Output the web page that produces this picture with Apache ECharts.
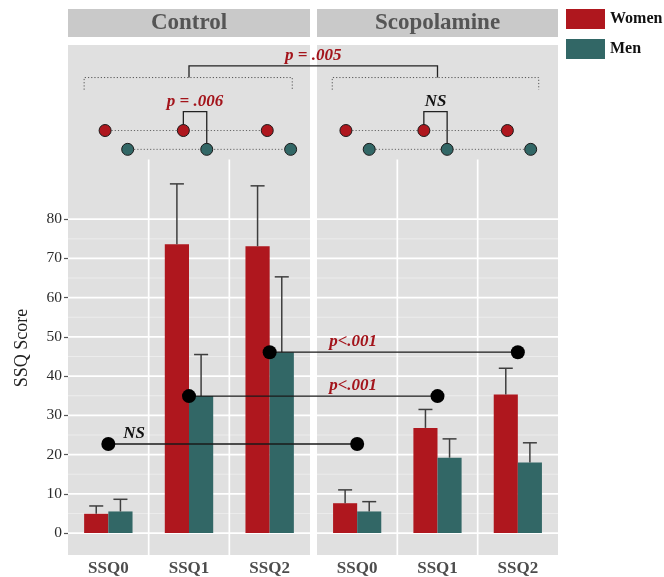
<!DOCTYPE html>
<html>
<head>
<meta charset="utf-8">
<script src="https://cdn.jsdelivr.net/npm/echarts@6/dist/echarts.min.js"></script>
<style>
  html, body { margin: 0; padding: 0; background: #ffffff; }
  #chart { width: 664px; height: 577px; }
</style>
</head>
<body>
<div id="chart"></div>
<script>
// ---- data ----
const categories = ['SSQ0', 'SSQ1', 'SSQ2'];
const panelNames = ['Control', 'Scopolamine'];
const groupNames = ['Women', 'Men'];

// mean SSQ scores
const controlWomen = [4.9, 73.6, 73.1];
const controlMen = [5.5, 34.9, 46.1];
const scopWomen = [7.6, 26.8, 35.3];
const scopMen = [5.5, 19.2, 18.0];

// upper end of each error bar (mean + error)
const controlWomenUpper = [6.9, 89.0, 88.5];
const controlMenUpper = [8.6, 45.5, 65.3];
const scopWomenUpper = [11.0, 31.5, 42.0];
const scopMenUpper = [8.0, 24.0, 23.0];

const yTicks = [0, 10, 20, 30, 40, 50, 60, 70, 80];
const yMinorTicks = [5, 15, 25, 35, 45, 55, 65, 75];

// Control vs Scopolamine at each session
const sessionLevels = [22.7, 34.9, 46.1];
const sessionLabels = ['NS', 'p<.001', 'p<.001'];

// women vs men within each condition, and condition effect
const sexTestLabels = ['p = .006', 'NS'];
const conditionTestLabel = 'p = .005';

// ---- styling / layout ----
const FONT = '"Liberation Serif", "Times New Roman", serif';
const WOMEN_COLOR = '#AF171E';
const MEN_COLOR = '#326766';
const PANEL_BG = '#E0E0E0';
const STRIP_BG = '#C9C9C9';
const P_RED = '#A3141B';

const grids = [
  { left: 68, top: 45, width: 242, height: 512 },
  { left: 317, top: 45, width: 241, height: 512 }
];
const Y_MIN = -5.6, Y_MAX = 124.4;
const VGRID_TOP = 95.2;

// schematic design diagram above the bars (x in category-band units)
const schemWomenX = [[0.46, 1.43, 2.47], [0.36, 1.33, 2.37]];
const schemMenX = [[0.74, 1.72, 2.76], [0.65, 1.62, 2.66]];
const SCHEM_WOMEN_Y = 102.6, SCHEM_MEN_Y = 97.8;
const SEX_BRACKET_Y = 107.4, SEX_LABEL_Y = 110.0;
const groupBoxX = [[0.20, 2.78], [0.19, 2.76]];
const GROUP_BOX_LOW = 113.0, GROUP_BOX_TOP = 116.1;
const COND_BRACKET_Y = 119.1, COND_LABEL_Y = 121.8;
const sessionLabelPos = [{ panel: 0, x: 0.82 }, { panel: 1, x: 0.45 }, { panel: 1, x: 0.45 }];

const panels = [
  { women: controlWomen, men: controlMen, womenUp: controlWomenUpper, menUp: controlMenUpper },
  { women: scopWomen, men: scopMen, womenUp: scopWomenUpper, menUp: scopMenUpper }
];

const chart = echarts.init(document.getElementById('chart'), null, { renderer: 'canvas' });

function hLine(params, api) {
  const y = api.coord([0, api.value(1)])[1];
  const cs = params.coordSys;
  const major = api.value(2) === 1;
  return {
    type: 'line', silent: true,
    shape: { x1: cs.x, y1: y, x2: cs.x + cs.width, y2: y },
    style: { stroke: major ? '#FFFFFF' : '#EDEDED', lineWidth: major ? 1.7 : 0.9 }
  };
}

function vLine(params, api) {
  const band = api.size([1, 0])[0];
  const x = api.coord([api.value(0), 0])[0] - band / 2;
  const cs = params.coordSys;
  const yTop = api.coord([0, VGRID_TOP])[1];
  return {
    type: 'line', silent: true,
    shape: { x1: x, y1: yTop, x2: x, y2: cs.y + cs.height },
    style: { stroke: '#FFFFFF', lineWidth: 1.7 }
  };
}

function errBar(side) {
  return function (params, api) {
    const band = api.size([1, 0])[0];
    const cx = api.coord([api.value(0), 0])[0] + side * band * 0.15;
    const y0 = api.coord([0, api.value(1)])[1];
    const y1 = api.coord([0, api.value(2)])[1];
    const cap = band * 0.087;
    const st = { stroke: '#3E3E3E', lineWidth: 1.5 };
    return {
      type: 'group',
      children: [
        { type: 'line', shape: { x1: cx, y1: y0, x2: cx, y2: y1 }, style: st },
        { type: 'line', shape: { x1: cx - cap, y1: y1, x2: cx + cap, y2: y1 }, style: st }
      ]
    };
  };
}

const xAxes = [], yAxes = [], series = [];
grids.forEach((g, p) => {
  xAxes.push({
    type: 'category', gridIndex: p, data: categories, boundaryGap: true,
    axisLine: { show: false }, axisTick: { show: false }, splitLine: { show: false },
    axisLabel: { margin: 5, fontFamily: FONT, fontWeight: 'bold', fontSize: 17, color: '#4D4D4D' }
  });
  yAxes.push({
    type: 'value', gridIndex: p, min: Y_MIN, max: Y_MAX,
    axisLine: { show: false }, splitLine: { show: false },
    axisTick: { show: p === 0, length: 4, lineStyle: { color: '#555555', width: 1.2 }, customValues: yTicks },
    axisLabel: { show: p === 0, customValues: yTicks, margin: 6, fontFamily: FONT, fontSize: 15.5, color: '#2B2B2B' }
  });
});
// hidden continuous axes (0..3 band units) for placing annotations
grids.forEach((g, p) => {
  xAxes.push({ type: 'value', gridIndex: p, min: 0, max: 3, show: false });
});

grids.forEach((g, p) => {
  const gridRows = yTicks.map(v => [0, v, 1]).concat(yMinorTicks.map(v => [0, v, 0]));
  series.push({
    type: 'custom', xAxisIndex: p, yAxisIndex: p, z: 1, silent: true,
    encode: { x: 0, y: 1 }, renderItem: hLine, data: gridRows
  });
  series.push({
    type: 'custom', xAxisIndex: p, yAxisIndex: p, z: 1, silent: true,
    encode: { x: 0, y: 1 }, renderItem: vLine, data: [[1, 0], [2, 0]]
  });
  const d = panels[p];
  series.push({
    name: 'Women', type: 'bar', xAxisIndex: p, yAxisIndex: p, z: 2,
    barWidth: '30%', barGap: '0%', data: d.women,
    itemStyle: { color: WOMEN_COLOR }
  });
  series.push({
    name: 'Men', type: 'bar', xAxisIndex: p, yAxisIndex: p, z: 2,
    barWidth: '30%', barGap: '0%', data: d.men,
    itemStyle: { color: MEN_COLOR }
  });
  series.push({
    type: 'custom', xAxisIndex: p, yAxisIndex: p, z: 3, silent: true,
    encode: { x: 0, y: [1, 2] }, renderItem: errBar(-1),
    data: d.women.map((v, i) => [i, v, d.womenUp[i]])
  });
  series.push({
    type: 'custom', xAxisIndex: p, yAxisIndex: p, z: 3, silent: true,
    encode: { x: 0, y: [1, 2] }, renderItem: errBar(1),
    data: d.men.map((v, i) => [i, v, d.menUp[i]])
  });
});

const baseGraphics = [];
grids.forEach((g, p) => {
  baseGraphics.push({
    type: 'rect', shape: { x: g.left, y: 9, width: g.width, height: 28 },
    style: { fill: STRIP_BG }, silent: true
  });
  baseGraphics.push({
    type: 'text', silent: true,
    style: {
      text: panelNames[p], x: g.left + g.width / 2, y: 23.5,
      align: 'center', verticalAlign: 'middle',
      fontFamily: FONT, fontWeight: 'bold', fontSize: 23, fill: '#555555'
    }
  });
});
baseGraphics.push({
  type: 'text', silent: true, rotation: Math.PI / 2, x: 22, y: 348,
  style: {
    text: 'SSQ Score', x: 0, y: 0, align: 'center', verticalAlign: 'middle',
    fontFamily: FONT, fontSize: 18, fill: '#222222'
  }
});

chart.setOption({
  animation: false,
  backgroundColor: '#FFFFFF',
  grid: grids.map(g => Object.assign({ show: true, backgroundColor: PANEL_BG, borderWidth: 0 }, g)),
  legend: {
    data: groupNames, orient: 'vertical', left: 561, top: 4,
    itemWidth: 39, itemHeight: 20, itemGap: 10, icon: 'rect', selectedMode: false,
    textStyle: { fontFamily: FONT, fontWeight: 'bold', fontSize: 16, color: '#111111' }
  },
  xAxis: xAxes,
  yAxis: yAxes,
  series: series,
  graphic: baseGraphics
});

// ---- annotations placed through the axes ----
function px(p, x, y) {
  return chart.convertToPixel({ xAxisIndex: 2 + p, yAxisIndex: p }, [x, y]);
}
const A = [];
function polyline(points, stroke, width, dash) {
  A.push({
    type: 'polyline', z: 100, silent: true, shape: { points: points },
    style: { stroke: stroke, lineWidth: width, fill: null, lineDash: dash || null }
  });
}
function dot(pt, r, fill, stroke) {
  A.push({
    type: 'circle', z: 101, silent: true, shape: { cx: pt[0], cy: pt[1], r: r },
    style: { fill: fill, stroke: stroke || null, lineWidth: stroke ? 1 : 0 }
  });
}
function label(pt, text, color, size) {
  A.push({
    type: 'text', z: 102, silent: true,
    style: {
      text: text, x: pt[0], y: pt[1], align: 'center', verticalAlign: 'middle',
      fontFamily: FONT, fontWeight: 'bold', fontStyle: 'italic', fontSize: size || 17, fill: color
    }
  });
}

const DOTTED = [1.2, 2];
grids.forEach((g, p) => {
  const wx = schemWomenX[p], mx = schemMenX[p];
  // dotted group box
  const bx = groupBoxX[p];
  polyline([px(p, bx[0], GROUP_BOX_LOW), px(p, bx[0], GROUP_BOX_TOP),
            px(p, bx[1], GROUP_BOX_TOP), px(p, bx[1], GROUP_BOX_LOW)], '#555555', 1, DOTTED);
  // dotted rows joining sessions
  polyline([px(p, wx[0], SCHEM_WOMEN_Y), px(p, wx[2], SCHEM_WOMEN_Y)], '#666666', 1, DOTTED);
  polyline([px(p, mx[0], SCHEM_MEN_Y), px(p, mx[2], SCHEM_MEN_Y)], '#666666', 1, DOTTED);
  // women vs men bracket
  polyline([px(p, wx[1], SCHEM_WOMEN_Y), px(p, wx[1], SEX_BRACKET_Y),
            px(p, mx[1], SEX_BRACKET_Y), px(p, mx[1], SCHEM_MEN_Y)], '#222222', 1.3);
  label(px(p, (wx[1] + mx[1]) / 2, SEX_LABEL_Y), sexTestLabels[p], p === 0 ? P_RED : '#111111');
  wx.forEach(x => dot(px(p, x, SCHEM_WOMEN_Y), 6, WOMEN_COLOR, '#1A1A1A'));
  mx.forEach(x => dot(px(p, x, SCHEM_MEN_Y), 6, MEN_COLOR, '#1A1A1A'));
});
// condition bracket across panels
polyline([px(0, 1.5, GROUP_BOX_TOP), px(0, 1.5, COND_BRACKET_Y),
          px(1, 1.5, COND_BRACKET_Y), px(1, 1.5, GROUP_BOX_TOP)], '#222222', 1.3);
{
  const a = px(0, 1.5, COND_LABEL_Y), b = px(1, 1.5, COND_LABEL_Y);
  label([(a[0] + b[0]) / 2, a[1]], conditionTestLabel, P_RED);
}
// session comparisons between conditions
sessionLevels.forEach((lvl, i) => {
  const a = px(0, i + 0.5, lvl), b = px(1, i + 0.5, lvl);
  polyline([a, b], '#1A1A1A', 1.3);
  dot(a, 7, '#000000');
  dot(b, 7, '#000000');
  const lp = sessionLabelPos[i];
  label(px(lp.panel, lp.x, lvl + 2.7), sessionLabels[i], sessionLabels[i] === 'NS' ? '#111111' : P_RED, 17);
});

chart.setOption({ graphic: baseGraphics.concat(A) });
</script>
</body>
</html>
